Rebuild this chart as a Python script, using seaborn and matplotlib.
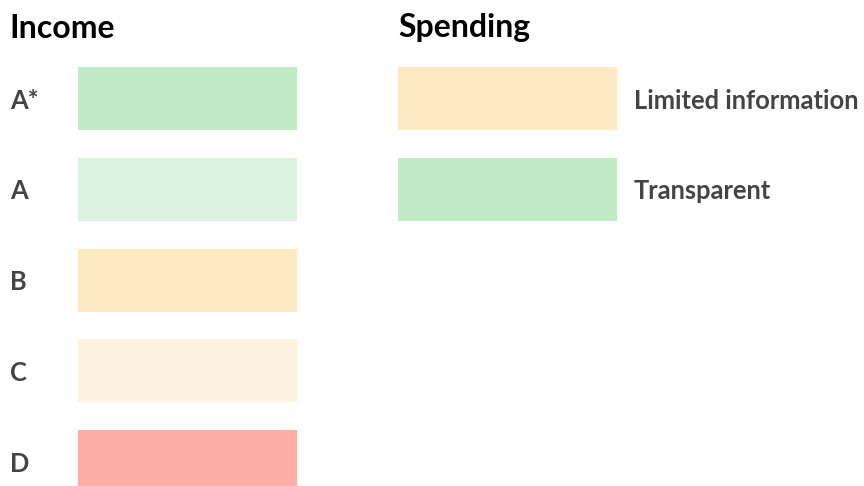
import matplotlib
matplotlib.use("Agg")
import matplotlib.pyplot as plt
import seaborn as sns
import pandas as pd

sns.set_theme(style="white")
plt.rcParams['font.family'] = ['Lato', 'DejaVu Sans']

# Data
income_title = "Income"
income_categories = ["A*", "A", "B", "C", "D"]
income_colors = ["#c1ebc6", "#dcf1de", "#feeac2", "#fef3e1", "#feafa5"]
spending_title = "Spending"
spending_categories = ["Limited information", "Transparent"]
spending_colors = ["#feeac2", "#c1ebc6"]

W, H = 864, 486
fig = plt.figure(figsize=(W / 100, H / 100), dpi=100)
fig.patch.set_facecolor("white")

row0_px = 98.5   # centre of first row (px from top)
pitch_px = 90.75  # row spacing in px
ytop = -row0_px / pitch_px
ybot = (H - row0_px) / pitch_px

label_color = "#444444"
label_size = 18.4
title_size = 23


def make_axes(x0, x1):
    return fig.add_axes([x0 / W, 0, (x1 - x0) / W, 1])


def draw_panel(ax, cats, colors):
    df = pd.DataFrame({"cat": cats, "val": [1] * len(cats)})
    sns.barplot(data=df, x="val", y="cat", hue="cat", palette=colors,
                legend=False, width=63 / pitch_px, ax=ax, orient="h",
                saturation=1, linewidth=0)
    ax.set_xlim(0, 1)
    ax.set_ylim(ybot, ytop)
    ax.set_xlabel("")
    ax.set_ylabel("")
    ax.set_xticks([])
    for s in ax.spines.values():
        s.set_visible(False)
    ax.patch.set_alpha(0)


# Income panel
ax1 = make_axes(78, 297)
draw_panel(ax1, income_categories, income_colors)
ax1.tick_params(axis="y", length=0, pad=68 * 0.72)
for t in ax1.get_yticklabels():
    t.set_ha("left")
    t.set_fontsize(label_size)
    t.set_fontweight("bold")
    t.set_color(label_color)

# Spending panel
ax2 = make_axes(398, 617)
draw_panel(ax2, spending_categories, spending_colors)
ax2.yaxis.tick_right()
ax2.tick_params(axis="y", length=0, pad=17 * 0.72)
for t in ax2.get_yticklabels():
    t.set_fontsize(label_size)
    t.set_fontweight("bold")
    t.set_color(label_color)

fig.text(9 / W, 1 - 28 / H, income_title, fontsize=title_size, fontweight="bold",
         color="black", ha="left", va="center")
fig.text(398 / W, 1 - 28 / H, spending_title, fontsize=title_size, fontweight="bold",
         color="black", ha="left", va="center")

fig.savefig("out.png", dpi=100, facecolor="white")
